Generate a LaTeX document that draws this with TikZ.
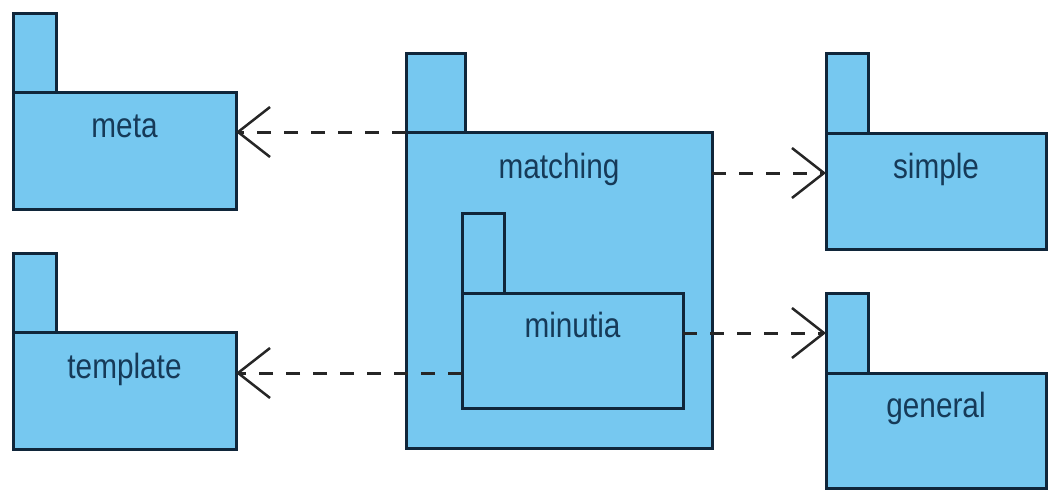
\documentclass[tikz,border=0pt]{standalone}
\usepackage{fontspec}
\setmainfont{Liberation Sans}[FakeStretch=0.85]
\usetikzlibrary{arrows.meta,calc}

\definecolor{pkgfill}{HTML}{76C8F0}
\definecolor{pkgline}{HTML}{10263A}
\definecolor{pkgtext}{HTML}{163A58}

\tikzset{
  pkgpart/.style={draw=pkgline, fill=pkgfill, line width=3pt, rectangle,
    inner sep=0pt, outer sep=0pt, anchor=north west},
  pkgtab/.style={pkgpart, minimum width=#1, minimum height=80pt},
  pkgbody/.style n args={2}{pkgpart, minimum width=#1, minimum height=#2},
  pkgname/.style={text=pkgtext, anchor=base, inner sep=0pt,
    font=\fontsize{35}{42}\selectfont},
  depends/.style={draw=black!85, line width=3pt, dash pattern=on 14pt off 13pt,
    -{Straight Barb[length=32pt,width=50pt,line width=2.5pt]}}
}

\begin{document}
\begin{tikzpicture}[x=1pt,y=-1pt]
  \useasboundingbox (0,0) rectangle (1048,499);

  % meta
  \node[pkgtab=43pt] (metatab) at (13,13) {};
  \node[pkgbody={223pt}{117pt}] (metabody) at (13,92) {};
  \node[pkgname] (metaname) at ([yshift=-45pt]metabody.north) {meta};

  % template
  \node[pkgtab=43pt] (templatetab) at (13,253) {};
  \node[pkgbody={223pt}{117pt}] (templatebody) at (13,332) {};
  \node[pkgname] (templatename) at ([yshift=-46pt]templatebody.north) {template};

  % matching, with minutia nested inside
  \node[pkgtab=59pt] (matchingtab) at (406,53) {};
  \node[pkgbody={306pt}{316pt}] (matchingbody) at (406,132) {};
  \node[pkgname] (matchingname) at ([yshift=-46pt]matchingbody.north) {matching};

  \node[pkgtab=42pt] (minutiatab) at (462,213) {};
  \node[pkgbody={221pt}{115pt}] (minutiabody) at (462,293) {};
  \node[pkgname] (minutianame) at ([yshift=-44pt]minutiabody.north) {minutia};

  % simple
  \node[pkgtab=42pt] (simpletab) at (826,53) {};
  \node[pkgbody={220pt}{116pt}] (simplebody) at (826,133) {};
  \node[pkgname] (simplename) at ([yshift=-45pt]simplebody.north) {simple};

  % general
  \node[pkgtab=42pt] (generaltab) at (826,293) {};
  \node[pkgbody={220pt}{115pt}] (generalbody) at (826,373) {};
  \node[pkgname] (generalname) at ([yshift=-44pt]generalbody.north) {general};

  % attachment points of the dependencies
  \coordinate (matchingout) at ([yshift=-41pt]matchingbody.north east);
  \coordinate (templatein) at ([yshift=-41pt]templatebody.north east);

  % dependencies
  \draw[depends] (matchingbody.north west) -- (matchingbody.north west -| metabody.east);
  \draw[depends] (matchingout) -- (matchingout -| simplebody.west);
  \draw[depends] (minutiabody.west |- templatein) -- (templatein);
  \draw[depends] (minutiabody.east |- generaltab.west) -- (generaltab.west);
\end{tikzpicture}
\end{document}
